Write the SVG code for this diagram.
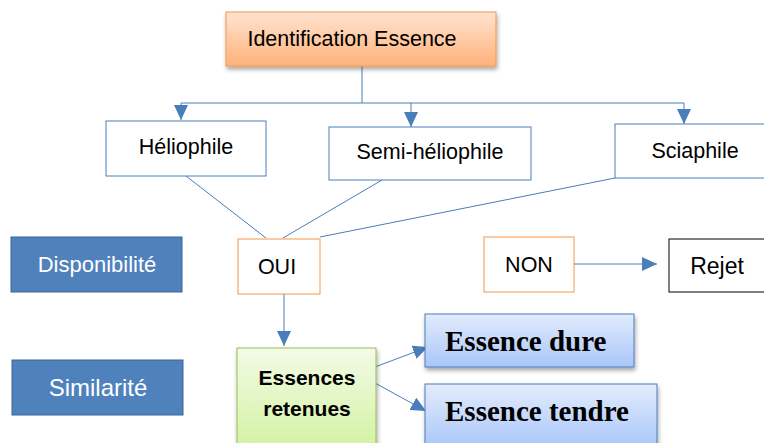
<svg xmlns="http://www.w3.org/2000/svg" width="764" height="443" viewBox="0 0 764 443">
<defs>
<linearGradient id="gOrange" x1="0" y1="0" x2="0" y2="1"><stop offset="0" stop-color="#FFE3D1"/><stop offset="1" stop-color="#FFB27A"/></linearGradient>
<linearGradient id="gGreen" x1="0" y1="0" x2="0" y2="1"><stop offset="0" stop-color="#F3FBE6"/><stop offset="1" stop-color="#D3F2A3"/></linearGradient>
<linearGradient id="gBlue" x1="0" y1="0" x2="0" y2="1"><stop offset="0" stop-color="#E3ECFD"/><stop offset="1" stop-color="#A9C6F9"/></linearGradient>
<filter id="sh" x="-10%" y="-10%" width="125%" height="135%"><feDropShadow dx="1" dy="3" stdDeviation="2" flood-color="#000" flood-opacity="0.35"/></filter>
<marker id="ah" markerWidth="15" markerHeight="14" refX="15" refY="7" orient="auto" markerUnits="userSpaceOnUse"><path d="M0,0 L15,7 L0,14 Z" fill="#4A7EBB"/></marker>
<style>
.ln{stroke:#4A7EBB;stroke-width:1;fill:none}
.wb{fill:#fff;stroke:#4A7EBB;stroke-width:1}
.ob{fill:#fff;stroke:#F79646;stroke-width:1}
.bb{fill:#4F81BD;stroke:#3A6496;stroke-width:1}
.t{font-family:"Liberation Sans",Carlito,Arial,sans-serif;font-size:21.5px;fill:#000;text-anchor:middle}
.tw{font-family:"Liberation Sans",Arial,sans-serif;font-size:22px;fill:#fff;text-anchor:middle}
.tb{font-family:"Liberation Sans",Arial,sans-serif;font-size:21px;font-weight:bold;fill:#000;text-anchor:middle}
.ts{font-family:"Liberation Serif","Times New Roman",serif;font-size:29px;font-weight:bold;fill:#000}
</style>
</defs>
<g id="connectors">
<path class="ln" d="M362,66 V103"/>
<path class="ln" d="M181,103 H684"/>
<path class="ln" d="M181,103 V120" marker-end="url(#ah)"/>
<path class="ln" d="M411,103 V127" marker-end="url(#ah)"/>
<path class="ln" d="M684,103 V124" marker-end="url(#ah)"/>
<path class="ln" d="M186,176 L266,238"/>
<path class="ln" d="M382,180 L283,238"/>
<path class="ln" d="M615,178 L320,237"/>
<path class="ln" d="M284,294 V346" marker-end="url(#ah)"/>
<path class="ln" d="M574,264 H657" marker-end="url(#ah)"/>
<path class="ln" d="M375,367 L428,347" marker-end="url(#ah)"/>
<path class="ln" d="M375,383 L426,411" marker-end="url(#ah)"/>
</g>
<g id="identification">
<rect x="226" y="12" width="270" height="54" fill="url(#gOrange)" stroke="#F79646" filter="url(#sh)"/>
<text class="t" x="352" y="46">Identification Essence</text>
</g>
<g id="heliophile">
<rect class="wb" x="106" y="121" width="160" height="55"/>
<text class="t" x="186" y="154">Héliophile</text>
</g>
<g id="semi">
<rect class="wb" x="329" y="127" width="202" height="53"/>
<text class="t" x="430" y="159">Semi-héliophile</text>
</g>
<g id="sciaphile">
<rect class="wb" x="615" y="124" width="160" height="54"/>
<text class="t" x="695" y="158">Sciaphile</text>
</g>
<g id="disponibilite">
<rect class="bb" x="11" y="237" width="171" height="55"/>
<text class="tw" x="97" y="272">Disponibilité</text>
</g>
<g id="oui">
<rect class="ob" x="238" y="239" width="82" height="55"/>
<text class="t" x="277" y="274">OUI</text>
</g>
<g id="non">
<rect class="ob" x="484" y="237" width="90" height="55"/>
<text class="t" x="529" y="272">NON</text>
</g>
<g id="rejet">
<rect x="669" y="239" width="100" height="53" fill="#fff" stroke="#000"/>
<text class="t" x="717" y="274" style="font-size:23px">Rejet</text>
</g>
<g id="similarite">
<rect class="bb" x="12" y="360" width="171" height="55"/>
<text class="tw" x="98" y="396" style="font-size:24px">Similarité</text>
</g>
<g id="retenues">
<rect x="237" y="348" width="139" height="100" fill="url(#gGreen)" stroke="#9BBB59" filter="url(#sh)"/>
<text class="tb" x="307" y="385">Essences</text>
<text class="tb" x="307" y="416">retenues</text>
</g>
<g id="dure">
<rect x="425" y="314" width="209" height="53" fill="url(#gBlue)" stroke="#4A7EBB" filter="url(#sh)"/>
<text class="ts" x="445" y="351">Essence dure</text>
</g>
<g id="tendre">
<rect x="425" y="384" width="232" height="64" fill="url(#gBlue)" stroke="#4A7EBB" filter="url(#sh)"/>
<text class="ts" x="445" y="421">Essence tendre</text>
</g>
</svg>
